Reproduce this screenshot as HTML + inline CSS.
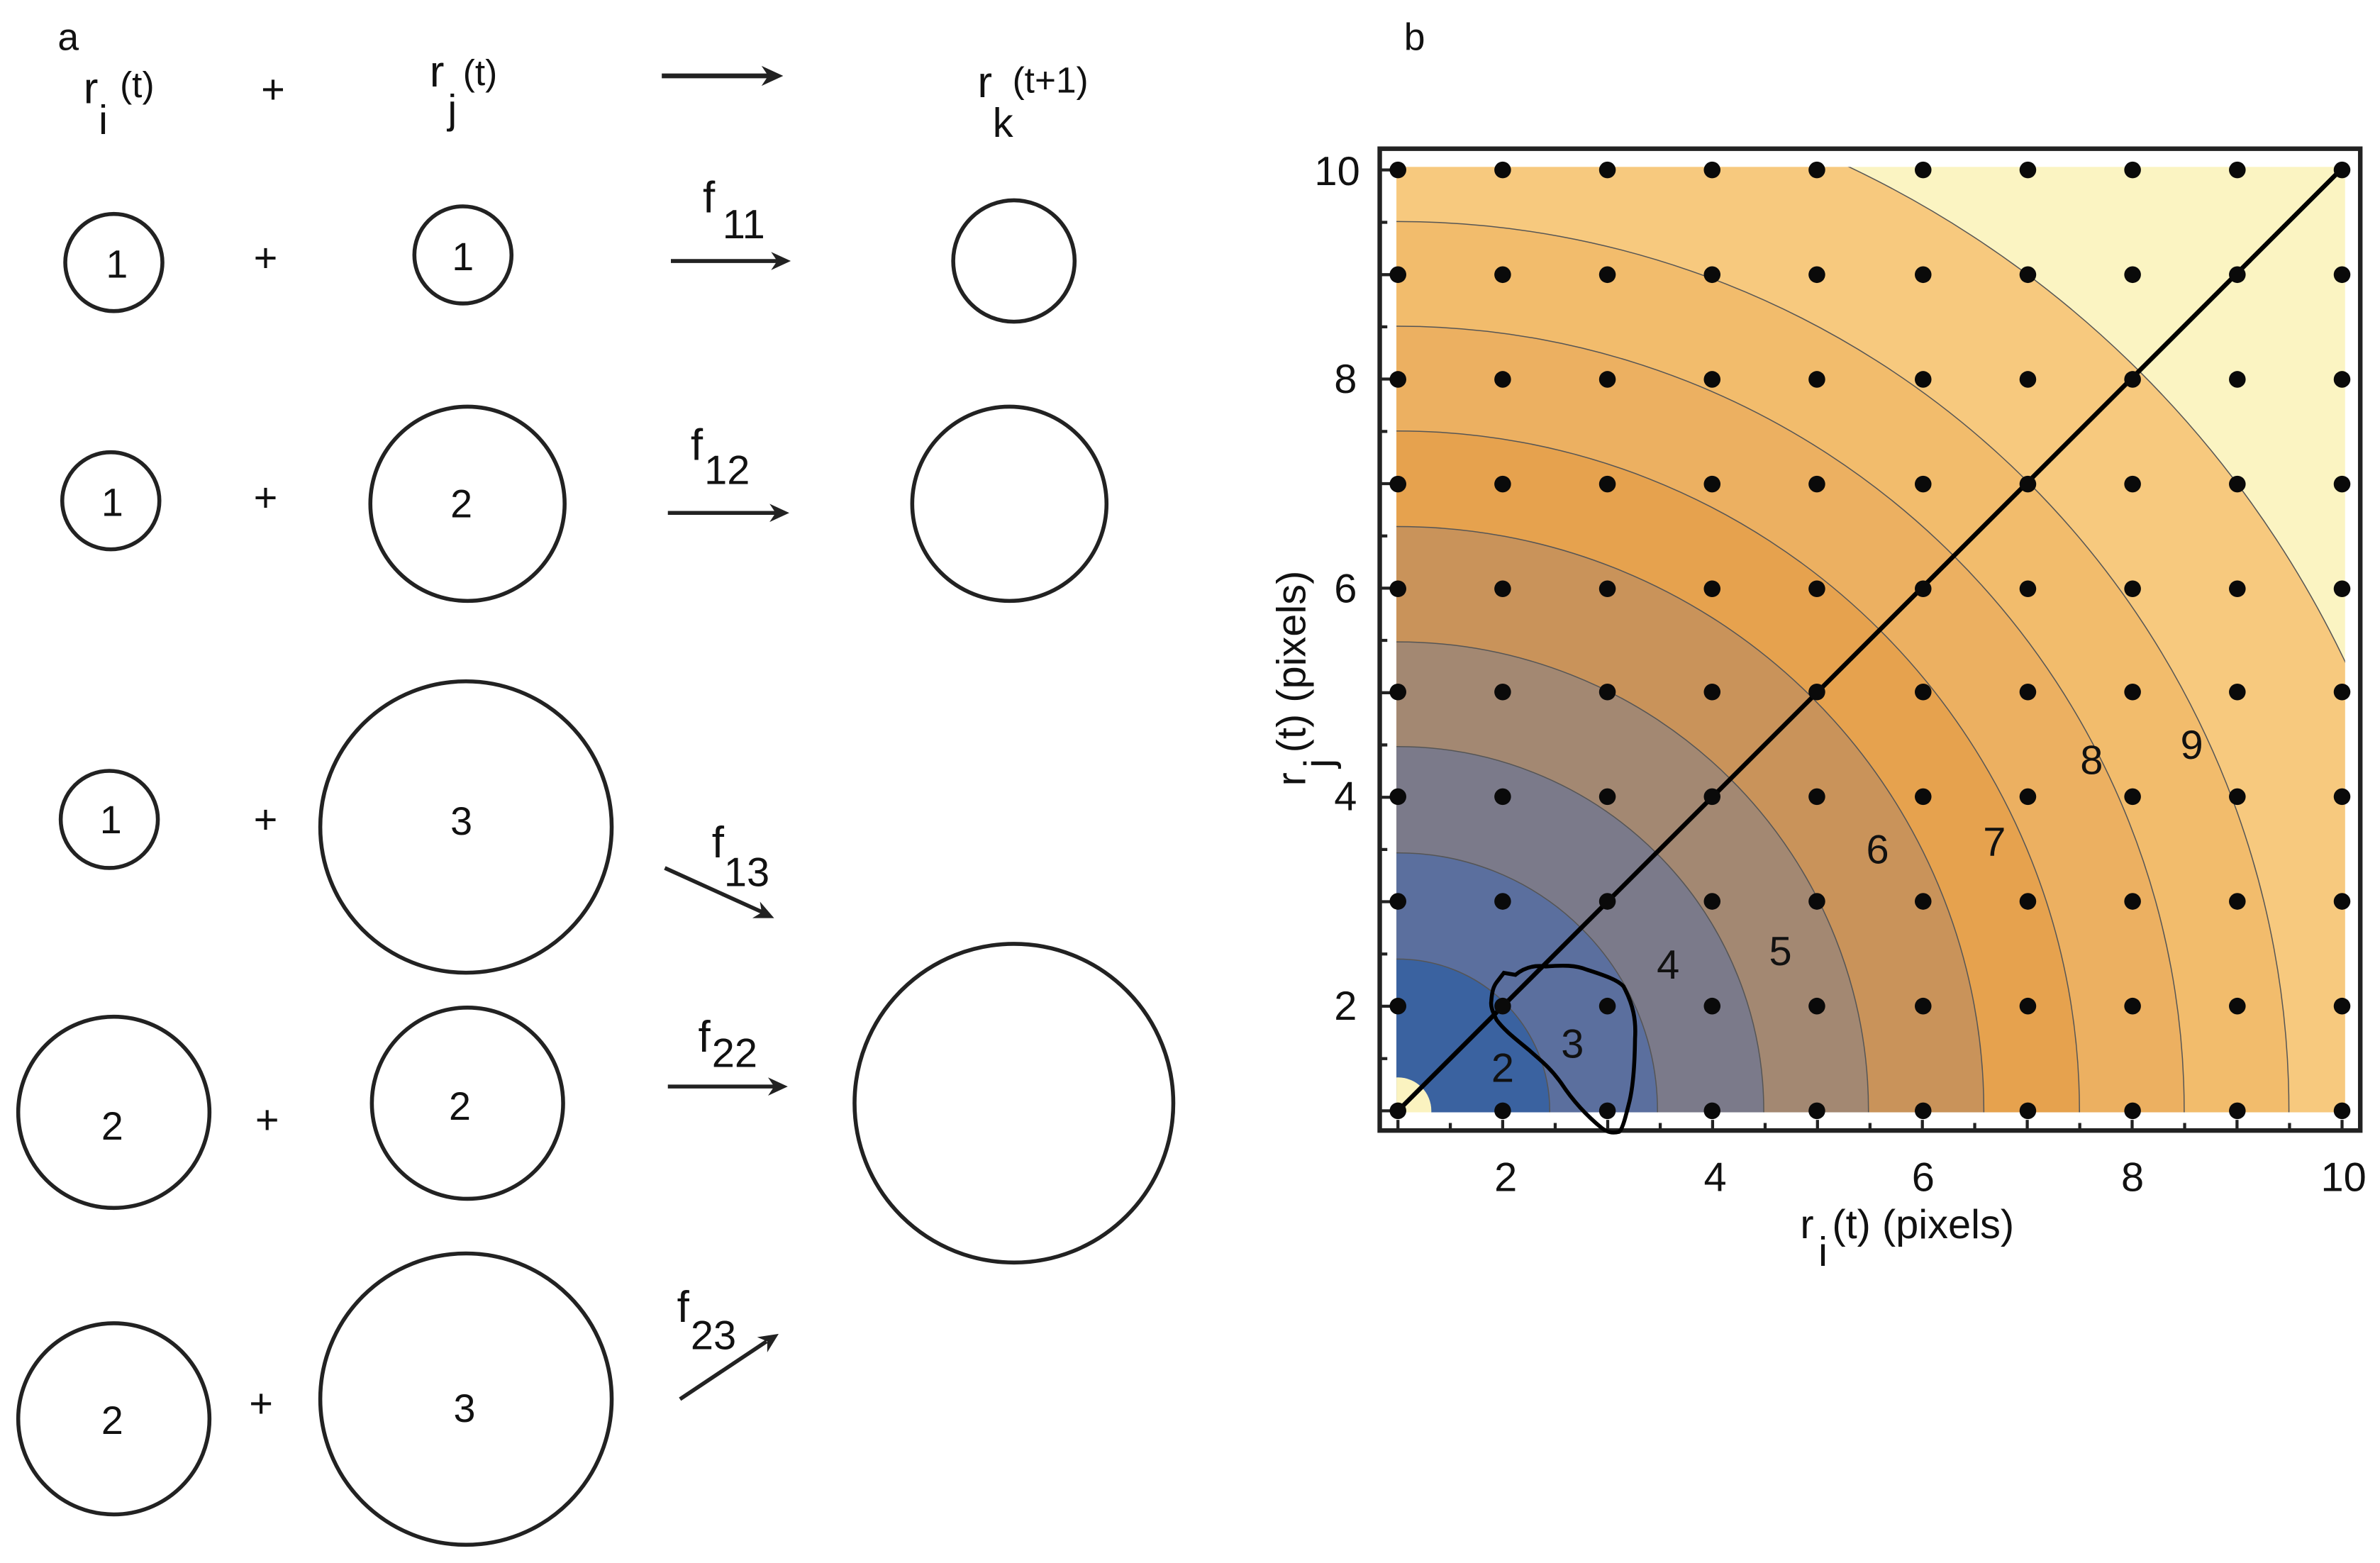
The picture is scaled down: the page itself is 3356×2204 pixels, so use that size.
<!DOCTYPE html>
<html><head><meta charset="utf-8"><style>
html,body{margin:0;padding:0;background:#fff;overflow:hidden;width:3356px;height:2204px;}
svg{display:block;}
text{font-family:"Liberation Sans",sans-serif;fill:#111;}
</style></head><body>
<svg width="3356" height="2204" viewBox="0 0 1568 1030" preserveAspectRatio="none" xmlns="http://www.w3.org/2000/svg">
<defs>
<clipPath id="pc"><rect x="920" y="110" width="625" height="623"/></clipPath>
<path id="head" d="M0,0 L-13,-6 L-9,0 L-13,6 Z" fill="#222"/>
</defs>

<!-- panel a -->
<text x="38" y="33" font-size="25">a</text>
<text x="55" y="68" font-size="29">r</text><text x="65" y="88" font-size="27">i</text><text x="79" y="64" font-size="24">(t)</text>
<text x="172" y="68" font-size="27">+</text>
<text x="283" y="57" font-size="29">r</text><text x="295" y="81" font-size="27">j</text><text x="305" y="56" font-size="24">(t)</text>
<line x1="436" y1="50" x2="508" y2="50" stroke="#222" stroke-width="3.2"/>
<use href="#head" transform="translate(516,50) scale(1.1)"/>
<text x="644" y="64" font-size="29">r</text><text x="654" y="90" font-size="27">k</text><text x="667" y="61" font-size="24">(t+1)</text>

<g fill="none" stroke="#222" stroke-width="2.6">
<circle cx="75" cy="173" r="32"/><circle cx="305" cy="168" r="32"/><circle cx="668" cy="172" r="40"/>
<circle cx="73" cy="330" r="32"/><circle cx="308" cy="332" r="64"/><circle cx="665" cy="332" r="64"/>
<circle cx="72" cy="540" r="32"/><circle cx="307" cy="545" r="96"/>
<circle cx="75" cy="733" r="63"/><circle cx="308" cy="727" r="63"/><circle cx="668" cy="727" r="105"/>
<circle cx="75" cy="935" r="63"/><circle cx="307" cy="922" r="96"/>
</g>
<g font-size="26" text-anchor="middle">
<text x="77" y="183">1</text><text x="305" y="178">1</text>
<text x="74" y="340">1</text><text x="304" y="341">2</text>
<text x="73" y="549">1</text><text x="304" y="550">3</text>
<text x="74" y="751">2</text><text x="303" y="738">2</text>
<text x="74" y="945">2</text><text x="306" y="937">3</text>
</g>
<g font-size="27" text-anchor="middle">
<text x="175" y="179">+</text><text x="175" y="337">+</text><text x="175" y="549">+</text>
<text x="176" y="747">+</text><text x="172" y="934">+</text>
</g>
<g stroke="#222" stroke-width="2.6">
<line x1="442" y1="172" x2="512" y2="172"/>
<line x1="440" y1="338" x2="511" y2="338"/>
<line x1="438" y1="572" x2="502" y2="601"/>
<line x1="440" y1="716" x2="510" y2="716"/>
<line x1="448" y1="922" x2="505" y2="884"/>
</g>
<use href="#head" transform="translate(521,172)"/>
<use href="#head" transform="translate(520,338)"/>
<use href="#head" transform="translate(510,605) rotate(24.6)"/>
<use href="#head" transform="translate(519,716)"/>
<use href="#head" transform="translate(513,879) rotate(-33.5)"/>
<g font-size="29">
<text x="463" y="140">f</text><text x="476" y="157" font-size="27">11</text>
<text x="455" y="303">f</text><text x="464" y="319" font-size="27">12</text>
<text x="469" y="565">f</text><text x="477" y="584" font-size="27">13</text>
<text x="460" y="693">f</text><text x="469" y="703" font-size="27">22</text>
<text x="446" y="871">f</text><text x="455" y="889" font-size="27">23</text>
</g>

<!-- panel b -->
<text x="925" y="33" font-size="25">b</text>
<rect x="909" y="98" width="646" height="647" fill="#fff"/>
<g clip-path="url(#pc)">
<rect x="900" y="90" width="660" height="660" fill="#fbf4c2"/>
<g stroke="#555" stroke-width="0.7">
<ellipse cx="921" cy="732" rx="691" ry="689" fill="#f7c97e"/>
<ellipse cx="921" cy="732" rx="587" ry="586" fill="#f2bc6c"/>
<ellipse cx="921" cy="732" rx="518" ry="517" fill="#ecb061"/>
<ellipse cx="921" cy="732" rx="449" ry="448" fill="#e6a24e"/>
<ellipse cx="921" cy="732" rx="386" ry="385" fill="#c9935a"/>
<ellipse cx="921" cy="732" rx="310" ry="309" fill="#a38872"/>
<ellipse cx="921" cy="732" rx="241" ry="240" fill="#7b7a8a"/>
<ellipse cx="921" cy="732" rx="171" ry="170" fill="#5b6f9e"/>
<ellipse cx="921" cy="732" rx="100" ry="100" fill="#3a62a0"/>
<ellipse cx="921" cy="732" rx="22" ry="22" fill="#fbf3c0" stroke="none"/>
</g>
</g>
<rect x="909" y="98" width="646" height="647" fill="none" stroke="#222" stroke-width="3"/>
<g stroke="#222" stroke-width="2">
<path d="M921,745v-7M955.5,745v-5M990,745v-7M1024.6,745v-5M1059.2,745v-7M1093.8,745v-5M1128.3,745v-7M1162.9,745v-5M1197.4,745v-7M1232,745v-5M1266.5,745v-7M1301,745v-5M1335.6,745v-7M1370.2,745v-5M1404.7,745v-7M1439.3,745v-5M1473.8,745v-7M1508.4,745v-5M1543,745v-7"/>
<path d="M909,732h7M909,697.6h5M909,663.1h7M909,628.7h5M909,594.2h7M909,559.8h5M909,525.4h7M909,490.9h5M909,456.5h7M909,422h5M909,387.6h7M909,353.2h5M909,318.7h7M909,284.3h5M909,249.8h7M909,215.4h5M909,181h7M909,146.5h5M909,112h7"/>
</g>
<line x1="921" y1="732" x2="1543" y2="111" stroke="#000" stroke-width="3"/>
<path d="M990.8,641.1 L998.4,642.4 C1005,637 1012,636 1018.4,636.9 C1030,636 1038,636 1045.4,639 C1058,643 1066,646 1069.6,650 C1076,662 1078,672 1077.2,684.5 C1077,700 1076,715 1073.7,725.1 C1071,736 1069,744 1066.8,745.8 C1062,747 1059,746 1055.7,743.7 C1045,735 1036,725 1028.8,714.1 C1021,703 1014,698 1007.4,692 C999,685 991,679 986,672.1 C983,666 982,663 982.5,659.7 C983,653 984,650 986,647.3 Z" fill="none" stroke="#000" stroke-width="2.6"/>
<g font-size="27" text-anchor="middle">
<text x="990" y="713">2</text><text x="1036" y="697">3</text><text x="1099" y="645">4</text>
<text x="1173" y="636">5</text><text x="1237" y="569">6</text><text x="1314" y="564">7</text>
<text x="1378" y="510">8</text><text x="1444" y="500">9</text>
</g>
<g font-size="27" text-anchor="middle">
<text x="992" y="785">2</text><text x="1130" y="785">4</text><text x="1267" y="785">6</text><text x="1405" y="785">8</text><text x="1544" y="785">10</text>
</g>
<g font-size="27" text-anchor="end">
<text x="896" y="122">10</text><text x="894" y="259">8</text><text x="894" y="397">6</text><text x="894" y="534">4</text><text x="894" y="672">2</text>
</g>
<text x="1186" y="816" font-size="27">r</text><text x="1198" y="834" font-size="27">i</text><text x="1207" y="816" font-size="27">(t) (pixels)</text>
<g transform="translate(860,430) rotate(-90)">
<text x="-88" y="0" font-size="27">r</text><text x="-76" y="18" font-size="27">j</text><text x="-66" y="0" font-size="27">(t) (pixels)</text>
</g>
<g fill="#0a0a0a">
<circle cx="921" cy="732" r="5.5"/><circle cx="990" cy="732" r="5.5"/><circle cx="1059" cy="732" r="5.5"/><circle cx="1128" cy="732" r="5.5"/><circle cx="1197" cy="732" r="5.5"/><circle cx="1267" cy="732" r="5.5"/><circle cx="1336" cy="732" r="5.5"/><circle cx="1405" cy="732" r="5.5"/><circle cx="1474" cy="732" r="5.5"/><circle cx="1543" cy="732" r="5.5"/>
<circle cx="921" cy="663" r="5.5"/><circle cx="990" cy="663" r="5.5"/><circle cx="1059" cy="663" r="5.5"/><circle cx="1128" cy="663" r="5.5"/><circle cx="1197" cy="663" r="5.5"/><circle cx="1267" cy="663" r="5.5"/><circle cx="1336" cy="663" r="5.5"/><circle cx="1405" cy="663" r="5.5"/><circle cx="1474" cy="663" r="5.5"/><circle cx="1543" cy="663" r="5.5"/>
<circle cx="921" cy="594" r="5.5"/><circle cx="990" cy="594" r="5.5"/><circle cx="1059" cy="594" r="5.5"/><circle cx="1128" cy="594" r="5.5"/><circle cx="1197" cy="594" r="5.5"/><circle cx="1267" cy="594" r="5.5"/><circle cx="1336" cy="594" r="5.5"/><circle cx="1405" cy="594" r="5.5"/><circle cx="1474" cy="594" r="5.5"/><circle cx="1543" cy="594" r="5.5"/>
<circle cx="921" cy="525" r="5.5"/><circle cx="990" cy="525" r="5.5"/><circle cx="1059" cy="525" r="5.5"/><circle cx="1128" cy="525" r="5.5"/><circle cx="1197" cy="525" r="5.5"/><circle cx="1267" cy="525" r="5.5"/><circle cx="1336" cy="525" r="5.5"/><circle cx="1405" cy="525" r="5.5"/><circle cx="1474" cy="525" r="5.5"/><circle cx="1543" cy="525" r="5.5"/>
<circle cx="921" cy="456" r="5.5"/><circle cx="990" cy="456" r="5.5"/><circle cx="1059" cy="456" r="5.5"/><circle cx="1128" cy="456" r="5.5"/><circle cx="1197" cy="456" r="5.5"/><circle cx="1267" cy="456" r="5.5"/><circle cx="1336" cy="456" r="5.5"/><circle cx="1405" cy="456" r="5.5"/><circle cx="1474" cy="456" r="5.5"/><circle cx="1543" cy="456" r="5.5"/>
<circle cx="921" cy="388" r="5.5"/><circle cx="990" cy="388" r="5.5"/><circle cx="1059" cy="388" r="5.5"/><circle cx="1128" cy="388" r="5.5"/><circle cx="1197" cy="388" r="5.5"/><circle cx="1267" cy="388" r="5.5"/><circle cx="1336" cy="388" r="5.5"/><circle cx="1405" cy="388" r="5.5"/><circle cx="1474" cy="388" r="5.5"/><circle cx="1543" cy="388" r="5.5"/>
<circle cx="921" cy="319" r="5.5"/><circle cx="990" cy="319" r="5.5"/><circle cx="1059" cy="319" r="5.5"/><circle cx="1128" cy="319" r="5.5"/><circle cx="1197" cy="319" r="5.5"/><circle cx="1267" cy="319" r="5.5"/><circle cx="1336" cy="319" r="5.5"/><circle cx="1405" cy="319" r="5.5"/><circle cx="1474" cy="319" r="5.5"/><circle cx="1543" cy="319" r="5.5"/>
<circle cx="921" cy="250" r="5.5"/><circle cx="990" cy="250" r="5.5"/><circle cx="1059" cy="250" r="5.5"/><circle cx="1128" cy="250" r="5.5"/><circle cx="1197" cy="250" r="5.5"/><circle cx="1267" cy="250" r="5.5"/><circle cx="1336" cy="250" r="5.5"/><circle cx="1405" cy="250" r="5.5"/><circle cx="1474" cy="250" r="5.5"/><circle cx="1543" cy="250" r="5.5"/>
<circle cx="921" cy="181" r="5.5"/><circle cx="990" cy="181" r="5.5"/><circle cx="1059" cy="181" r="5.5"/><circle cx="1128" cy="181" r="5.5"/><circle cx="1197" cy="181" r="5.5"/><circle cx="1267" cy="181" r="5.5"/><circle cx="1336" cy="181" r="5.5"/><circle cx="1405" cy="181" r="5.5"/><circle cx="1474" cy="181" r="5.5"/><circle cx="1543" cy="181" r="5.5"/>
<circle cx="921" cy="112" r="5.5"/><circle cx="990" cy="112" r="5.5"/><circle cx="1059" cy="112" r="5.5"/><circle cx="1128" cy="112" r="5.5"/><circle cx="1197" cy="112" r="5.5"/><circle cx="1267" cy="112" r="5.5"/><circle cx="1336" cy="112" r="5.5"/><circle cx="1405" cy="112" r="5.5"/><circle cx="1474" cy="112" r="5.5"/><circle cx="1543" cy="112" r="5.5"/>
</g>
</svg>
</body></html>
